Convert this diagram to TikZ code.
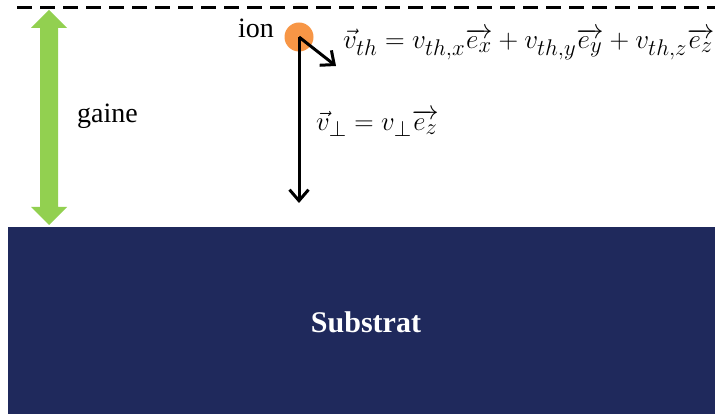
\documentclass[tikz,border=0pt]{standalone}
\usepackage{fontspec}
\setmainfont{Liberation Serif}
\usetikzlibrary{arrows.meta}
\definecolor{navy}{RGB}{31,41,92}
\definecolor{gaineGreen}{RGB}{146,208,80}
\definecolor{ionOrange}{RGB}{247,150,70}
\tikzset{
  blackarrow/.style={line width=3pt,-{Straight Barb[length=11pt,width=19pt,line width=3pt]}},
  lbl/.style={inner sep=0pt,font=\fontsize{28}{30}\selectfont},
  eq/.style={inner sep=0pt,font=\fontsize{24.88}{30}\selectfont}
}
\begin{document}
\begin{tikzpicture}[x=1pt,y=-1pt]
\useasboundingbox (0,0) rectangle (715,414);
% dashed boundary
\coordinate (dl) at (17,8);
\coordinate (dr) at (715,8);
\draw[line width=3pt,dash pattern=on 15pt off 8pt] (dl) -- (dr);
% substrate
\node[fill=navy,minimum width=707pt,minimum height=187pt,inner sep=0pt,anchor=north west] (sub) at (8,227) {};
\node[text=white,font=\fontsize{30}{32}\selectfont\bfseries,inner sep=0pt] (subl) at (366,322) {Substrat};
% green double arrow (sheath)
\fill[gaineGreen] (49,10) -- (67,28) -- (58,28) -- (58,207) -- (67,207) -- (49,225) -- (31,207) -- (40,207) -- (40,28) -- (31,28) -- cycle;
\node[lbl,anchor=west] (gaine) at (77,116) {gaine};
% ion
\node[circle,fill=ionOrange,minimum size=29pt,inner sep=0pt] (ion) at (299,37) {};
\node[lbl,anchor=east] (ionl) at (274,28) {ion};
\coordinate (vz) at (299,203);
\coordinate (vth) at (336,66);
\draw[blackarrow] (ion.center) -- (vz);
\draw[blackarrow] (ion.center) -- (vth);
% equations
\node[eq,anchor=west] (eqth) at (343,44) {\scalebox{1.095}{$\vec{v}_{th}=v_{th,x}\overrightarrow{e_x}+v_{th,y}\overrightarrow{e_y}+v_{th,z}\overrightarrow{e_z}$}};
\node[eq,anchor=west] (eqperp) at (316,123) {\scalebox{1.08}{$\vec{v}_{\perp}=v_{\perp}\overrightarrow{e_z}$}};
\end{tikzpicture}
\end{document}
